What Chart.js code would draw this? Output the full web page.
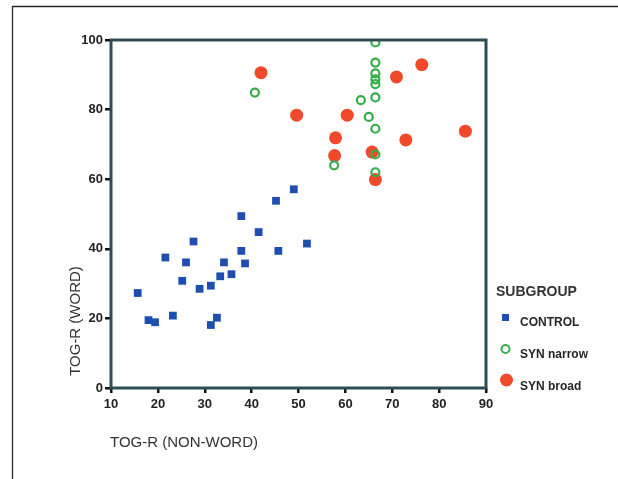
<!DOCTYPE html>
<html>
<head>
<meta charset="utf-8">
<script src="https://cdn.jsdelivr.net/npm/chart.js@4.4.1/dist/chart.umd.min.js"></script>
<style>
  html, body { margin: 0; padding: 0; background: #ffffff; }
  #wrap { position: relative; width: 618px; height: 479px; }
</style>
</head>
<body>
<div id="wrap"><canvas id="grafica" width="618" height="479"></canvas></div>
<script>
// datos
const controlX = [15.7, 18.0, 19.4, 21.6, 23.2, 25.2, 26.0, 27.6, 28.9, 31.3, 31.3, 32.6, 33.3, 34.1, 35.7, 37.8, 37.8, 38.6, 41.5, 45.2, 45.7, 49.0, 51.8];
const controlY = [27.3, 19.5, 18.9, 37.5, 20.8, 30.8, 36.1, 42.1, 28.5, 29.4, 18.1, 20.2, 32.1, 36.1, 32.7, 49.4, 39.4, 35.8, 44.8, 53.8, 39.4, 57.1, 41.5];

const narrowX = [40.7, 57.6, 63.3, 65.0, 66.4, 66.4, 66.4, 66.4, 66.4, 66.4, 66.4, 66.4, 66.4];
const narrowY = [84.9, 64.0, 82.7, 77.9, 99.3, 93.5, 90.4, 88.7, 87.3, 83.5, 74.5, 67.1, 62.0];

const broadX = [42.0, 49.6, 57.7, 57.9, 60.4, 65.7, 66.4, 70.9, 72.9, 76.3, 85.6];
const broadY = [90.6, 78.4, 66.8, 71.9, 78.4, 67.8, 59.9, 89.4, 71.3, 92.9, 73.8];

const xTicks = [10, 20, 30, 40, 50, 60, 70, 80, 90];
const yTicks = [0, 20, 40, 60, 80, 100];

const groupNames = ['CONTROL', 'SYN narrow', 'SYN broad'];
const legendTitle = 'SUBGROUP';
const xTitle = 'TOG-R (NON-WORD)';
const yTitle = 'TOG-R (WORD)';

const FONT = '"Liberation Sans", Arial, sans-serif';

function pares(xs, ys) {
    return xs.map((x, i) => ({ x: x, y: ys[i] }));
}

// marco, caja de ejes, titulos y leyenda
const extras = {
    id: 'extras',
    afterDraw(chart) {
        const ctx = chart.ctx;
        const ca = chart.chartArea;
        ctx.save();

        // marco exterior (solo izquierda y arriba)
        ctx.strokeStyle = '#2a2a2a';
        ctx.lineWidth = 1.3;
        ctx.beginPath();
        ctx.moveTo(12.5, 479);
        ctx.lineTo(12.5, 6.5);
        ctx.lineTo(618, 6.5);
        ctx.stroke();

        // caja del grafico
        ctx.strokeStyle = '#2d4d54';
        ctx.lineWidth = 3;
        ctx.strokeRect(ca.left, ca.top, ca.right - ca.left, ca.bottom - ca.top);

        // titulos de ejes
        ctx.fillStyle = '#333333';
        ctx.font = '15px ' + FONT;
        ctx.textBaseline = 'middle';
        ctx.textAlign = 'left';
        ctx.fillText(xTitle, ca.left - 1, 443);

        ctx.save();
        ctx.translate(76, 321);
        ctx.rotate(-Math.PI / 2);
        ctx.textAlign = 'center';
        ctx.fillText(yTitle, 0, 0);
        ctx.restore();

        // leyenda
        ctx.textAlign = 'left';
        ctx.fillStyle = '#333333';
        ctx.font = 'bold 14px ' + FONT;
        ctx.fillText(legendTitle, 496, 292);

        const ds = chart.data.datasets;
        // CONTROL
        ctx.fillStyle = ds[0].backgroundColor;
        ctx.fillRect(502, 314, 7, 7);
        // SYN narrow
        ctx.strokeStyle = ds[1].borderColor;
        ctx.lineWidth = 2;
        ctx.beginPath();
        ctx.arc(505.5, 349, 4, 0, Math.PI * 2);
        ctx.stroke();
        // SYN broad
        ctx.fillStyle = ds[2].backgroundColor;
        ctx.beginPath();
        ctx.arc(506.5, 380, 6.5, 0, Math.PI * 2);
        ctx.fill();

        ctx.fillStyle = '#262626';
        ctx.font = 'bold 12px ' + FONT;
        ctx.fillText(groupNames[0], 520, 323);
        ctx.fillText(groupNames[1], 520, 355);
        ctx.fillText(groupNames[2], 520, 387);

        ctx.restore();
    }
};

const ctx = document.getElementById('grafica').getContext('2d');
const chart = new Chart(ctx, {
    type: 'scatter',
    data: {
        datasets: [
            {
                label: groupNames[0],
                data: pares(controlX, controlY),
                pointStyle: 'rect',
                pointRadius: 5.5,
                backgroundColor: '#1f4fae',
                borderColor: '#1f4fae',
                borderWidth: 0
            },
            {
                label: groupNames[1],
                data: pares(narrowX, narrowY),
                pointStyle: 'circle',
                pointRadius: 4,
                backgroundColor: 'rgba(255,255,255,0)',
                borderColor: '#36ad4a',
                borderWidth: 2.2
            },
            {
                label: groupNames[2],
                data: pares(broadX, broadY),
                pointStyle: 'circle',
                pointRadius: 6.5,
                backgroundColor: '#f0492b',
                borderColor: '#f0492b',
                borderWidth: 0
            }
        ]
    },
    options: {
        responsive: false,
        animation: false,
        layout: {
            padding: { left: 71, right: 132, top: 40, bottom: 61 }
        },
        plugins: {
            legend: { display: false },
            tooltip: { enabled: false }
        },
        scales: {
            x: {
                type: 'linear',
                min: 10,
                max: 90,
                afterBuildTicks: (s) => { s.ticks = xTicks.map(v => ({ value: v })); },
                afterFit: (s) => { s.height = 30; },
                border: { display: false },
                grid: {
                    drawOnChartArea: false,
                    drawTicks: true,
                    tickLength: 5,
                    color: '#111111',
                    lineWidth: 2.5
                },
                ticks: {
                    padding: 4,
                    color: '#222222',
                    font: { family: FONT, size: 13, weight: 'bold' }
                }
            },
            y: {
                type: 'linear',
                min: 0,
                max: 100,
                afterBuildTicks: (s) => { s.ticks = yTicks.map(v => ({ value: v })); },
                afterFit: (s) => { s.width = 40; },
                border: { display: false },
                grid: {
                    drawOnChartArea: false,
                    drawTicks: true,
                    tickLength: 6,
                    color: '#111111',
                    lineWidth: 2.5
                },
                ticks: {
                    padding: 2,
                    color: '#222222',
                    font: { family: FONT, size: 13, weight: 'bold' }
                }
            }
        }
    },
    plugins: [extras]
});
</script>
</body>
</html>
